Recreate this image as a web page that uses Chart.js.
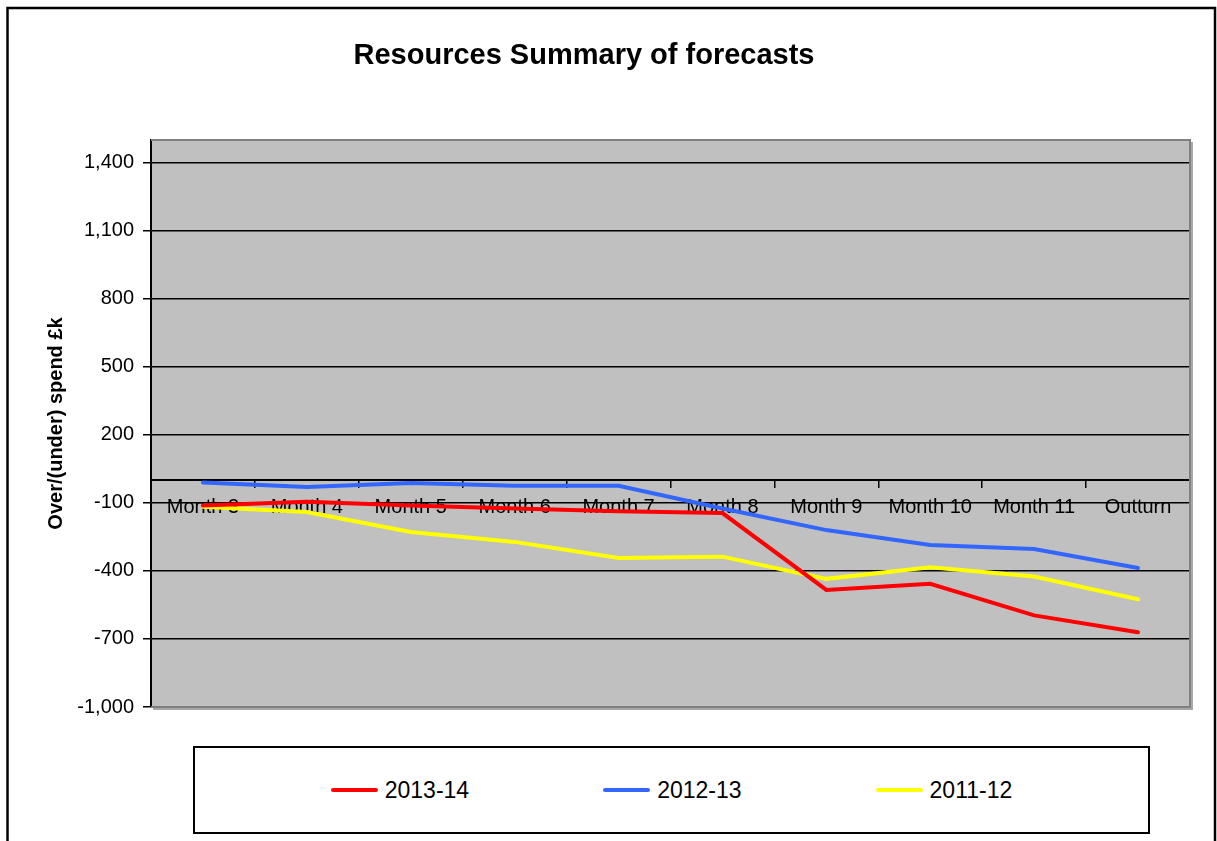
<!DOCTYPE html>
<html>
<head>
<meta charset="utf-8">
<script src="https://cdn.jsdelivr.net/npm/chart.js@4.4.1/dist/chart.umd.min.js"></script>
<style>
    body { margin: 0; background: #fff; }
    #wrap { position: relative; width: 1217px; height: 841px; overflow: hidden; }
    #chart { position: absolute; left: 0; top: 0; }
    #legendBox {
        position: absolute; left: 193px; top: 746px; width: 953px; height: 84px;
        border: 2px solid #000; background: #fff;
        display: flex; justify-content: center; align-items: center; gap: 134px;
        font-family: 'Liberation Sans', Arial, sans-serif; font-size: 23px; color: #000;
    }
    .legend-item { display: flex; align-items: center; }
    .legend-line { width: 47px; height: 4px; border-radius: 2px; margin-right: 7px; }
</style>
</head>
<body>
<div id="wrap">
    <canvas id="chart" width="1217" height="841"></canvas>
    <div id="legendBox"></div>
</div>
<script>
// chart data
const categories = ['Month 3', 'Month 4', 'Month 5', 'Month 6', 'Month 7', 'Month 8', 'Month 9', 'Month 10', 'Month 11', 'Outturn'];
const series2013 = [-112, -95, -112, -125, -137, -145, -484, -457, -596, -670];
const series2012 = [-10, -30, -12, -25, -25, -125, -220, -286, -303, -387];
const series2011 = [-117, -140, -228, -272, -343, -337, -435, -384, -425, -525];
const yTicks = [-1000, -700, -400, -100, 200, 500, 800, 1100, 1400];

const chartTitle = 'Resources Summary of forecasts';
const fontFamily = "'Liberation Sans', Arial, sans-serif";

// grey plot area, its border, the outer frame and the title
const frames = {
    id: 'frames',
    beforeDraw(chart) {
        const { ctx, chartArea: a } = chart;
        ctx.save();
        ctx.fillStyle = '#c0c0c0';
        ctx.fillRect(a.left, a.top, a.right - a.left, a.bottom - a.top);

        // title sits a bit left of the plot centre, like the original
        ctx.fillStyle = '#000';
        ctx.font = 'bold 29px ' + fontFamily;
        ctx.textAlign = 'center';
        ctx.textBaseline = 'middle';
        ctx.fillText(chartTitle, 584, 56);
        ctx.restore();
    },
    afterDraw(chart) {
        const { ctx, chartArea: a } = chart;
        ctx.save();
        // shadow
        ctx.strokeStyle = '#a8a8a8';
        ctx.lineWidth = 2;
        ctx.beginPath();
        ctx.moveTo(a.left + 2, a.bottom + 2);
        ctx.lineTo(a.right + 2, a.bottom + 2);
        ctx.lineTo(a.right + 2, a.top + 2);
        ctx.stroke();
        // plot border
        ctx.strokeStyle = '#808080';
        ctx.beginPath();
        ctx.moveTo(a.left, a.top);
        ctx.lineTo(a.right, a.top);
        ctx.lineTo(a.right, a.bottom);
        ctx.lineTo(a.left, a.bottom);
        ctx.stroke();
        // outer chart frame
        ctx.strokeStyle = '#000';
        ctx.lineWidth = 2.5;
        ctx.strokeRect(7.5, 8, 1207.5, 1000);
        ctx.restore();
    }
};

const ctx = document.getElementById('chart').getContext('2d');
const chart = new Chart(ctx, {
    type: 'line',
    data: {
        labels: categories,
        datasets: [
            { label: '2013-14', data: series2013, borderColor: '#ff0000' },
            { label: '2012-13', data: series2012, borderColor: '#3366ff' },
            { label: '2011-12', data: series2011, borderColor: '#ffff00' }
        ]
    },
    options: {
        responsive: false,
        animation: false,
        devicePixelRatio: 1,
        layout: { padding: { left: 0, top: 140, right: 27, bottom: 134 } },
        elements: {
            line: { borderWidth: 4, tension: 0, borderCapStyle: 'round' },
            point: { radius: 0, hoverRadius: 0 }
        },
        plugins: {
            legend: { display: false },
            tooltip: { enabled: false },
            title: { display: false }
        },
        scales: {
            x: {
                type: 'category',
                position: { y: 0 },
                offset: true,
                grid: {
                    drawOnChartArea: false,
                    drawTicks: true,
                    tickLength: 7,
                    color: '#000',
                    lineWidth: 1.5,
                    offset: true
                },
                border: { display: true, color: '#000', width: 2 },
                ticks: {
                    color: '#000',
                    font: { family: fontFamily, size: 20 },
                    padding: 8,
                    maxRotation: 0,
                    autoSkip: false
                }
            },
            y: {
                min: -1000,
                max: 1500,
                afterBuildTicks(scale) {
                    scale.ticks = yTicks.map(v => ({ value: v }));
                },
                afterFit(scale) {
                    scale.width = 151;
                },
                grid: { color: '#000', lineWidth: 1.5, tickLength: 8 },
                border: { display: true, color: '#000', width: 2 },
                ticks: {
                    color: '#000',
                    padding: 9,
                    font: { family: fontFamily, size: 20 },
                    callback: v => v.toLocaleString('en-US')
                },
                title: {
                    display: true,
                    text: 'Over/(under) spend £k',
                    color: '#000',
                    font: { family: fontFamily, size: 20, weight: 'bold' },
                    padding: { top: 44, bottom: 0 }
                }
            }
        }
    },
    plugins: [frames]
});

// legend in its own box, built from the datasets
const legendBox = document.getElementById('legendBox');
chart.data.datasets.forEach(ds => {
    const item = document.createElement('div');
    item.className = 'legend-item';
    const line = document.createElement('span');
    line.className = 'legend-line';
    line.style.background = ds.borderColor;
    const text = document.createElement('span');
    text.textContent = ds.label;
    item.appendChild(line);
    item.appendChild(text);
    legendBox.appendChild(item);
});
</script>
</body>
</html>
